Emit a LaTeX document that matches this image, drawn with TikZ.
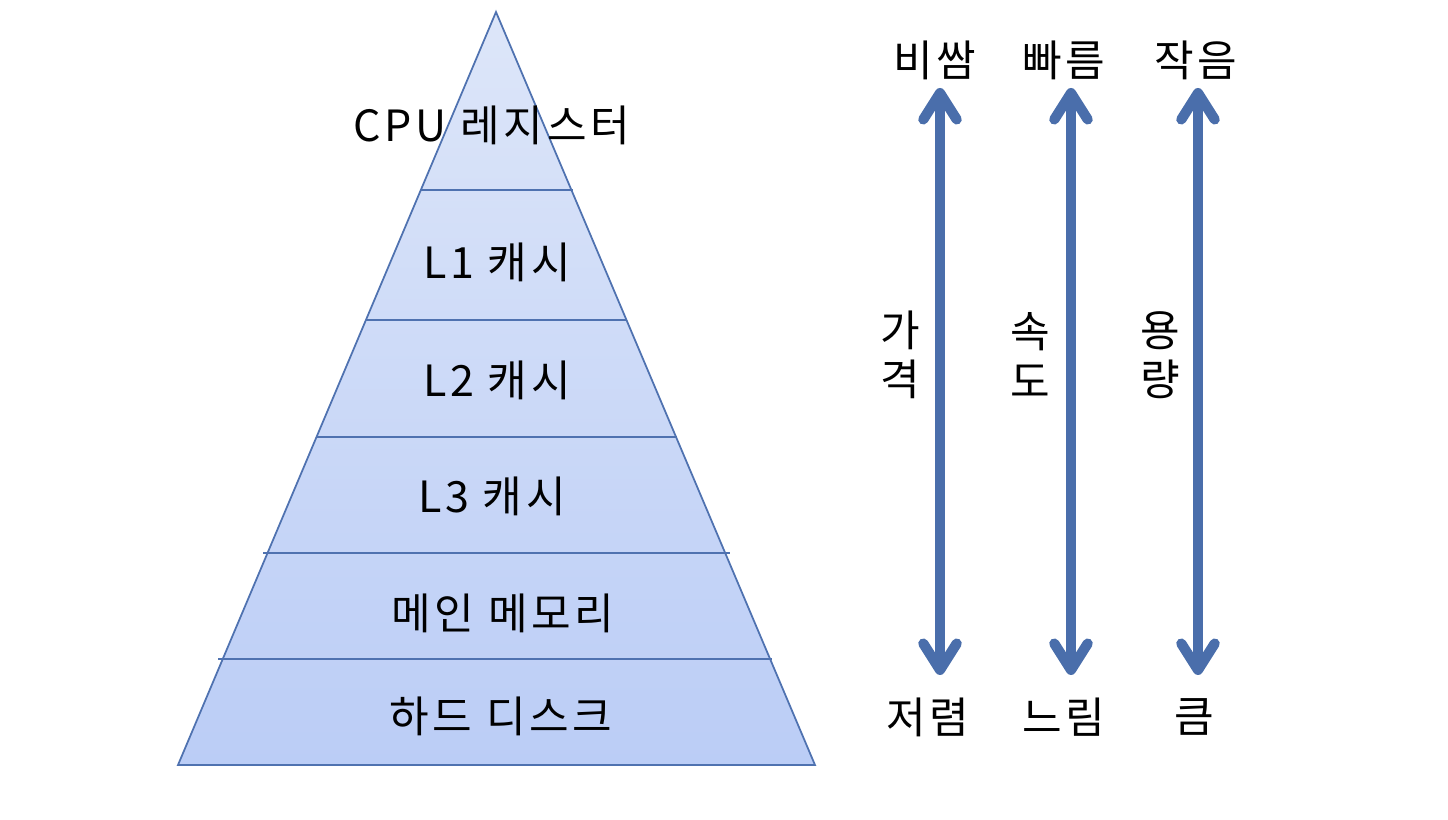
\documentclass[tikz,border=0pt]{standalone}
\usepackage{fontspec}
\setmainfont{Noto Sans CJK KR}[LetterSpace=9]
\usetikzlibrary{arrows.meta}
\begin{document}
\begin{tikzpicture}[x=0.02cm,y=-0.02cm,
	txt/.style={font=\fontsize{24.5}{28}\selectfont, inner sep=0pt},
	scalearrow/.style={draw=arrowcolor, line width=5.8pt,
		{Straight Barb[length=15pt,width=19pt,round]}-{Straight Barb[length=15pt,width=19pt,round]}}]
		
		% Define colors
		\definecolor{topcolor}{RGB}{221, 230, 249}
		\definecolor{botcolor}{RGB}{187, 205, 246}
		\definecolor{edgecolor}{RGB}{79, 114, 176}
		\definecolor{arrowcolor}{RGB}{74, 110, 171}
		
		\useasboundingbox (0,0) rectangle (1448,820);
		
		% Draw the pyramid
		\coordinate (apex) at (496,12);
		\coordinate (bl) at (178,765);
		\coordinate (br) at (815,765);
		\shade[top color=topcolor, bottom color=botcolor] (apex) -- (bl) -- (br) -- cycle;
		\draw[edgecolor, line width=1pt] (apex) -- (bl) -- (br) -- cycle;
		
		% Levels of the pyramid
		\draw[edgecolor, line width=1pt] (421,190) -- (573,190);
		\draw[edgecolor, line width=1pt] (366,320) -- (627,320);
		\draw[edgecolor, line width=1pt] (316,437) -- (677,437);
		\draw[edgecolor, line width=1pt] (263,553) -- (730,553);
		\draw[edgecolor, line width=1pt] (218,659) -- (772,659);
		
		\node[txt] (reg) at (492,125) {CPU 레지스터};
		\node[txt] (l1) at (497,262) {L1 캐시};
		\node[txt] (l2) at (497,380) {L2 캐시};
		\node[txt] (l3) at (492,496) {L3 캐시};
		\node[txt] (mem) at (503,613) {메인 메모리};
		\node[txt] (disk) at (501,716) {하드 디스크};
		
		% Add scales
		\node[txt] (costhi) at (935,60) {비쌈};
		\node[txt] (costlo) at (928,717) {저렴};
		\node[txt, align=center] (cost) at (900,355) {가\\격};
		\coordinate (cost1) at (940,88);
		\coordinate (cost2) at (940,675);
		\draw[scalearrow] (cost1) -- (cost2);
		
		\node[txt] (speedhi) at (1064,60) {빠름};
		\node[txt] (speedlo) at (1064,717) {느림};
		\node[txt, align=center] (speed) at (1030,355) {속\\도};
		\coordinate (speed1) at (1071,88);
		\coordinate (speed2) at (1071,675);
		\draw[scalearrow] (speed1) -- (speed2);
		
		\node[txt] (sizelo) at (1196,60) {작음};
		\node[txt] (sizehi) at (1194,717) {큼};
		\node[txt, align=center] (size) at (1160,355) {용\\량};
		\coordinate (size1) at (1198,88);
		\coordinate (size2) at (1198,675);
		\draw[scalearrow] (size1) -- (size2);
	\end{tikzpicture}
\end{document}
